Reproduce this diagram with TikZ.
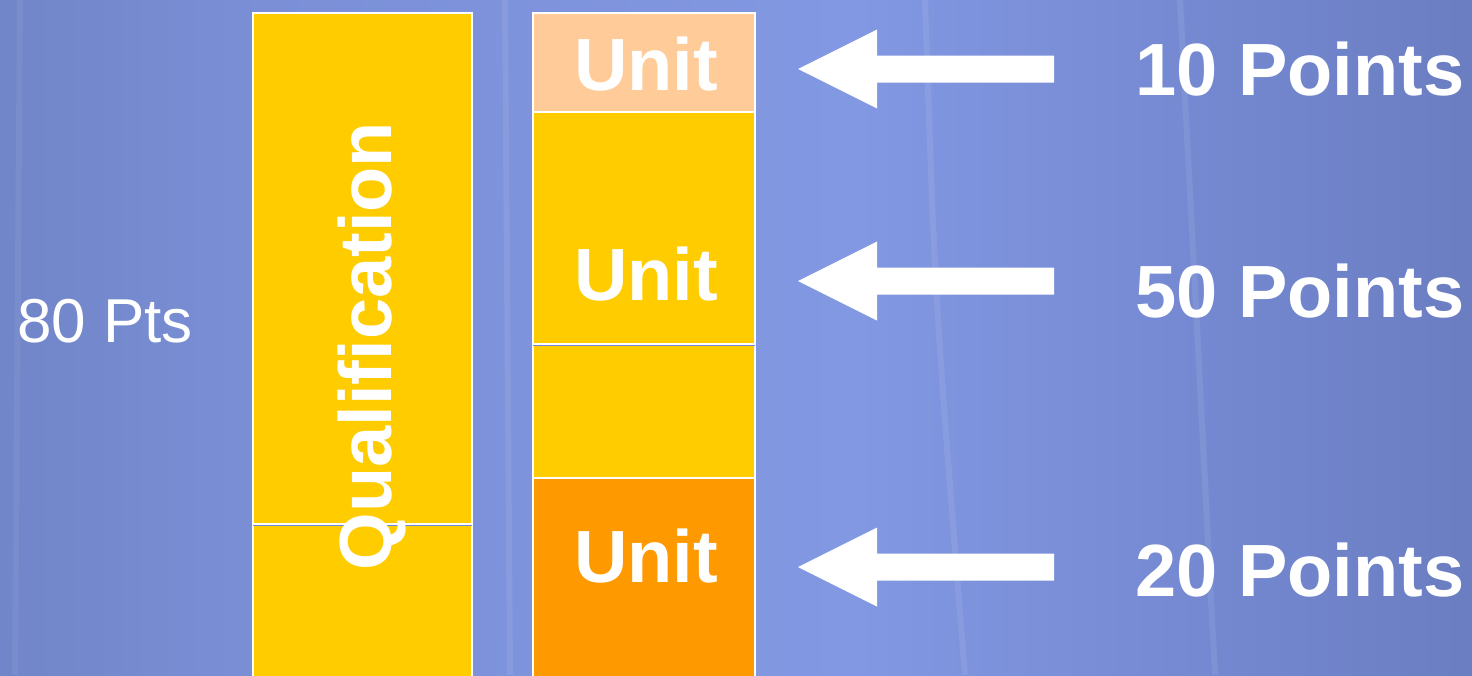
\documentclass[tikz,border=0pt]{standalone}
\usepackage{fontspec}
\setmainfont{Liberation Sans}
\usepackage{tikz}
\usetikzlibrary{positioning}
\definecolor{qualyellow}{HTML}{FFCC00}
\definecolor{unitpeach}{HTML}{FFCC99}
\definecolor{unitorange}{HTML}{FF9900}
\definecolor{bgA}{RGB}{92,110,168}
\definecolor{bgB}{RGB}{104,124,186}
\definecolor{bgC}{RGB}{122,143,214}
\definecolor{bgD}{RGB}{130,152,226}
\definecolor{bgE}{RGB}{114,134,206}
\definecolor{bgF}{RGB}{94,110,170}
\definecolor{bgG}{RGB}{104,124,190}
\definecolor{splitblue}{RGB}{112,136,214}
\pgfdeclarehorizontalshading{slidebg}{100bp}{color(0bp)=(bgA); color(16bp)=(bgB);
  color(34bp)=(bgC); color(54bp)=(bgD); color(68bp)=(bgE); color(88bp)=(bgF);
  color(100bp)=(bgG)}

\begin{document}
\begin{tikzpicture}[x=1pt,y=-1pt,
    box/.style={draw=white,line width=2.2pt,minimum width=#1,inner sep=0pt},
    big/.style={text=white,font=\fontsize{74}{80}\selectfont\bfseries,inner sep=0pt,anchor=base},
    streak/.style={white,opacity=0.08,line width=6pt}]
        % background
        \shade[shading=slidebg] (0,0) rectangle (1472,675);
        \useasboundingbox (0,0) rectangle (1472,675);
        \draw[streak] (505,0) -- (510,675);
        \draw[streak] (925,0) .. controls (935,300) .. (965,675);
        \draw[streak] (1180,0) -- (1215,675);
        \draw[streak,opacity=0.05] (20,0) -- (15,675);

        % qualification column
        \node[box=219pt,minimum height=511pt,fill=qualyellow] (QT) at (362.5,268.5) {};
        \node[box=219pt,minimum height=160pt,fill=qualyellow] (QB) at (362.5,604) {};
        \draw[splitblue,line width=1pt] ([xshift=1.1pt]QT.south west) -- ([xshift=-1.1pt]QT.south east);

        % unit column
        \node[box=222pt,minimum height=99pt,fill=unitpeach] (U1) at (644,62.5) {};
        \node[box=222pt,minimum height=232pt,fill=qualyellow] (U2) at (644,228) {};
        \node[box=222pt,minimum height=134pt,fill=qualyellow] (U3) at (644,411) {};
        \node[box=222pt,minimum height=206pt,fill=unitorange] (U4) at (644,581) {};
        \draw[splitblue,line width=1pt] ([xshift=1.1pt]U2.south west) -- ([xshift=-1.1pt]U2.south east);

        % labels
        \node[big,rotate=90] (qual) at (391,346) {Qualification};
        \node[big] (t1) at (646,90.7) {Unit};
        \node[big] (t2) at (646,300) {Unit};
        \node[big] (t3) at (646,582) {Unit};
        \node[big] (p1) at (1300,95) {10 Points};
        \node[big] (p2) at (1300,317) {50 Points};
        \node[big] (p3) at (1300,596) {20 Points};
        \node[text=white,font=\fontsize{62}{68}\selectfont,inner sep=0pt,anchor=base] (tot) at (105,342) {80 Pts};

        % block arrows
        \foreach \y in {69,281,567}
            \fill[white] (798,\y) -- (877,\y-39.5) -- (877,\y-13.5) -- (1054,\y-13.5)
                -- (1054,\y+13.5) -- (877,\y+13.5) -- (877,\y+39.5) -- cycle;
\end{tikzpicture}
\end{document}
